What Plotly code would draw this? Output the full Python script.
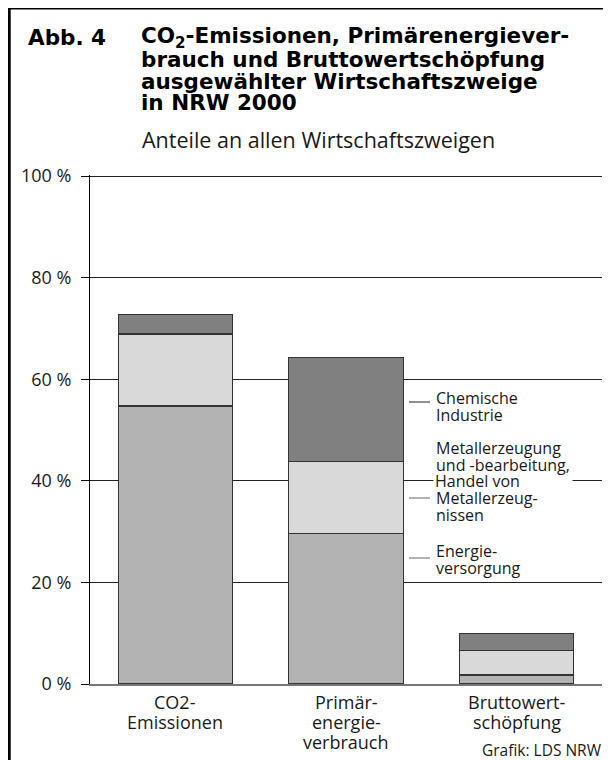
import plotly.graph_objects as go

# %% Data (shares of all economic sectors, NRW 2000, in %)
categories = ['CO2-Emissionen', 'Primärenergieverbrauch', 'Bruttowertschöpfung']
category_lines = [['CO2-', 'Emissionen'],
                  ['Primär-', 'energie-', 'verbrauch'],
                  ['Bruttowert-', 'schöpfung']]

energie = [54.7, 29.6, 1.8]
metall = [14.2, 14.2, 4.8]
chemie = [3.9, 20.5, 3.4]

series_names = ['Energieversorgung',
                'Metallerzeugung und -bearbeitung, Handel von Metallerzeugnissen',
                'Chemische Industrie']
series_colors = ['#b3b3b3', '#d9d9d9', '#808080']

tick_values = [0, 20, 40, 60, 80, 100]
tick_labels = ['0 %', '20 %', '40 %', '60 %', '80 %', '100 %']

# %% Page geometry (pixels); the page body adds an 8 px offset
OFF = 8
W, H = 603, 752
ML, MR, MT, MB = 82, 9, 167, 76
FONT = 'Open Sans'
TITLE_FONT = 'DejaVu Sans'

def px_x(px):
    # screen pixel -> paper x
    return (px - OFF - ML) / (W - ML - MR)

def px_y(py):
    # screen pixel -> paper y
    return (H - MB - (py - OFF)) / (H - MT - MB)

# %% Bars
fig = go.Figure()
for name, vals, col in zip(series_names, [energie, metall, chemie], series_colors):
    fig.add_trace(go.Bar(x=categories, y=vals, name=name,
                         marker=dict(color=col, line=dict(color='#333333', width=1.3)),
                         hoverinfo='skip'))

fig.update_layout(barmode='stack', bargap=0.33, showlegend=False,
                  width=W, height=H,
                  margin=dict(l=ML, r=MR, t=MT, b=MB),
                  paper_bgcolor='white', plot_bgcolor='white',
                  font=dict(family=FONT, color='#1a1a1a'))

# range slightly above 100 so the 100 % gridline is drawn
fig.update_yaxes(range=[0, 100.2], tickvals=tick_values, ticktext=tick_labels,
                 showgrid=True, gridcolor='#222222', gridwidth=1,
                 zeroline=False, showline=True, linecolor='black', linewidth=1,
                 ticks='outside', ticklen=8, tickcolor='black',
                 ticklabelstandoff=6,
                 tickfont=dict(family=FONT, size=18, color='#1a1a1a'))
fig.update_xaxes(showticklabels=False, showgrid=False, zeroline=False,
                 showline=True, linecolor='#777777', linewidth=1.5, ticks='')

# %% Category labels (one annotation per line for tight spacing)
for cat, lines in zip(categories, category_lines):
    for i, line in enumerate(lines):
        fig.add_annotation(x=cat, xref='x', y=px_y(702 + 20 * i), yref='paper',
                           text=line, showarrow=False, xanchor='center', yanchor='middle',
                           font=dict(family=FONT, size=18, color='#1a1a1a'))

# %% Title block
fig.add_annotation(x=px_x(26), y=px_y(38), xref='paper', yref='paper', text='<b>Abb. 4</b>',
                   showarrow=False, xanchor='left', yanchor='middle',
                   font=dict(family=TITLE_FONT, size=21.5, color='black'))
title_lines = ['<b>CO<sub>2</sub>-Emissionen, Primärenergiever-</b>',
               '<b>brauch und Bruttowertschöpfung</b>',
               '<b>ausgewählter Wirtschaftszweige</b>',
               '<b>in NRW 2000</b>']
for i, line in enumerate(title_lines):
    fig.add_annotation(x=px_x(139), y=px_y(38 + 21.5 * i), xref='paper', yref='paper', text=line,
                       showarrow=False, xanchor='left', yanchor='middle',
                       font=dict(family=TITLE_FONT, size=21.5, color='black'))
fig.add_annotation(x=px_x(140), y=px_y(140), xref='paper', yref='paper',
                   text='Anteile an allen Wirtschaftszweigen',
                   showarrow=False, xanchor='left', yanchor='middle',
                   font=dict(family=FONT, size=21.5, color='#1a1a1a'))

# %% Legend labels at the right of the middle bar
# white box behind "Handel von" hides the 40 % gridline
fig.add_annotation(x=px_x(433), y=px_y(481), xref='paper', yref='paper', text='Handel von',
                   showarrow=False, xanchor='left', yanchor='middle', align='left',
                   width=136, height=16, bgcolor='white', borderpad=1,
                   font=dict(family=FONT, size=16, color='#1a1a1a'))
legend_blocks = [
    (['Chemische', 'Industrie'], 398),
    (['Metallerzeugung', 'und -bearbeitung,', None, 'Metallerzeug-', 'nissen'], 448),
    (['Energie-', 'versorgung'], 551),
]
for lines, y0 in legend_blocks:
    for i, line in enumerate(lines):
        if line is None:
            continue
        fig.add_annotation(x=px_x(434), y=px_y(y0 + 16.8 * i), xref='paper', yref='paper', text=line,
                           showarrow=False, xanchor='left', yanchor='middle', align='left',
                           font=dict(family=FONT, size=16, color='#1a1a1a'))

# short leader lines
for ly, col in [(402, '#222222'), (498, '#666666'), (558, '#666666')]:
    fig.add_shape(type='line', xref='paper', yref='paper',
                  x0=px_x(409), x1=px_x(430), y0=px_y(ly), y1=px_y(ly),
                  line=dict(color=col, width=1))

# %% Source
fig.add_annotation(x=px_x(604), y=px_y(750), xref='paper', yref='paper', text='Grafik: LDS NRW',
                   showarrow=False, xanchor='right', yanchor='middle',
                   font=dict(family=FONT, size=15.5, color='#1a1a1a'))

# %% Frame (left and top edges; right and bottom run off the page)
fig.add_shape(type='line', xref='paper', yref='paper',
              x0=px_x(9.2), x1=px_x(9.2), y0=px_y(780), y1=px_y(7),
              line=dict(color='black', width=3))
fig.add_shape(type='line', xref='paper', yref='paper',
              x0=px_x(7), x1=px_x(640), y0=px_y(8.3), y1=px_y(8.3),
              line=dict(color='black', width=2.5))

fig.write_html('out.html')
